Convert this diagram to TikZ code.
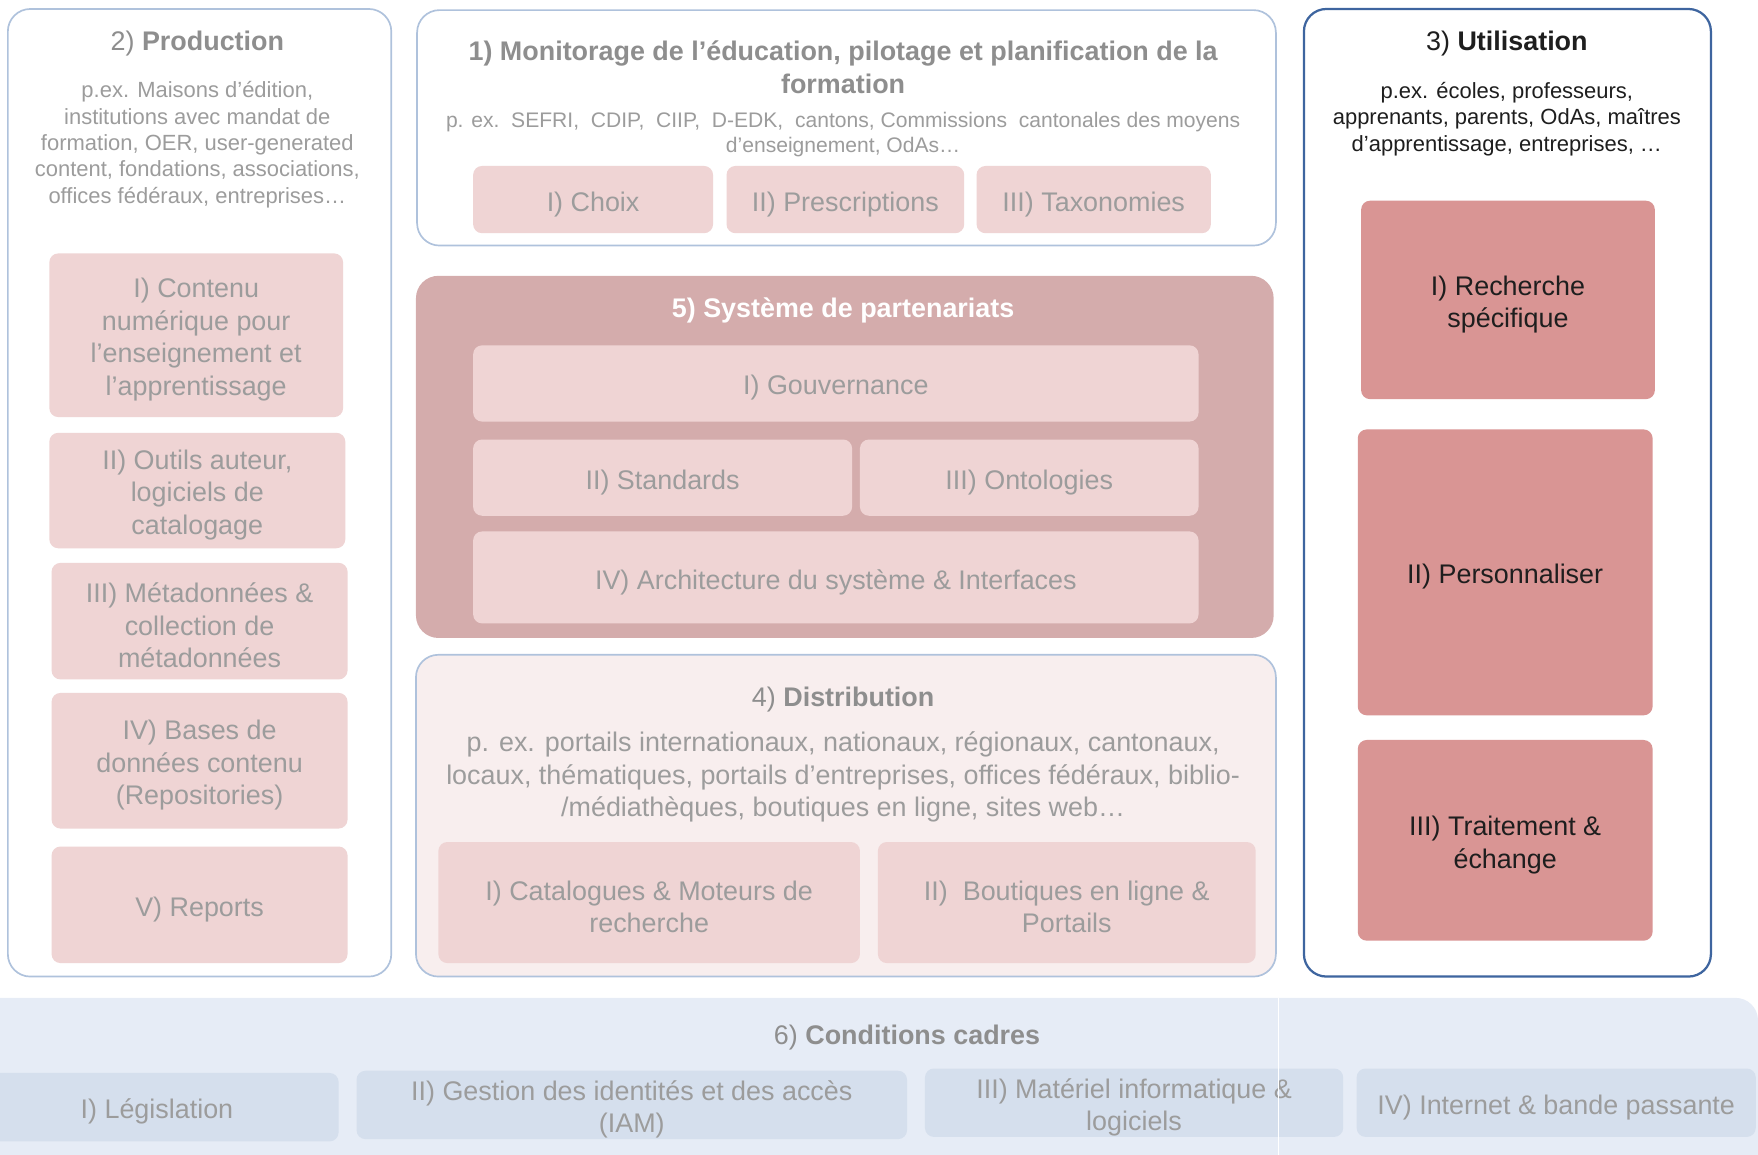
\documentclass[tikz,border=0pt]{standalone}
\usepackage{fontspec}
\setmainfont{Liberation Sans}
\usetikzlibrary{fit}
\definecolor{fadetext}{HTML}{9C9C9C}
\definecolor{titletext}{HTML}{8E8E8E}
\definecolor{darktext}{HTML}{1E1E1E}
\definecolor{framecol}{HTML}{AFC2DC}
\definecolor{userframe}{HTML}{3E659F}
\definecolor{subpink}{HTML}{EFD4D4}
\definecolor{userose}{HTML}{D99594}
\definecolor{partner}{HTML}{D4ACAC}
\definecolor{distfill}{HTML}{F8EEEE}
\definecolor{bandfill}{HTML}{E6ECF6}
\definecolor{subblue}{HTML}{D5DFED}
\begin{document}
\begin{tikzpicture}[x=0.5pt,y=-0.5pt,
    frame/.style={draw=framecol, line width=0.75pt, rounded corners=10pt, inner sep=0pt, fill=white},
    pinkbox/.style={fill=subpink, rounded corners=4pt, inner sep=0pt},
    rosebox/.style={pinkbox, fill=userose},
    bluebox/.style={pinkbox, fill=subblue},
    boxtext/.style={text=fadetext, align=center, yshift=-2pt, font=\fontsize{12}{14.5}\selectfont},
    rosetext/.style={boxtext, text=darktext},
    title/.style={text=titletext, align=center, font=\fontsize{12}{14.5}\selectfont},
    desc/.style={text=fadetext, align=center, font=\fontsize{9.8}{11.75}\selectfont}]
    \useasboundingbox (0,0) rectangle (1568,1030);
    \node[fill=bandfill, rounded corners=10pt, inner sep=0pt, fit={(-30,890) (1568,1060)}] (cadres) {};
    \node[title] (cadrestitle) at (809,925) {6) \textbf{Conditions cadres}};
    \node[bluebox, fit={(-22,957) (302,1018)}] (legis) {};
    \node[boxtext] at (legis) {I) Législation};
    \node[bluebox, fit={(318,955) (809,1016)}] (iam) {};
    \node[boxtext] at (iam) {II) Gestion des identités et des accès\\(IAM)};
    \node[bluebox, fit={(825,953) (1198,1014)}] (mat) {};
    \node[boxtext] at (mat) {III) Matériel informatique \&\\logiciels};
    \node[bluebox, fit={(1210,953) (1566,1014)}] (net) {};
    \node[boxtext] at (net) {IV) Internet \& bande passante};
    \draw[white, line width=0.5pt] (1140,890) -- (1140,1030);

    \node[frame, fit={(7,8) (349,871)}] (prod) {};
    \node[title] (prodtitle) at (176,39) {2) \textbf{Production}};
    \node[desc] (proddesc) at (176,129) {p.ex. Maisons d’édition,\\institutions avec mandat de\\formation, OER, user-generated\\content, fondations, associations,\\offices fédéraux, entreprises…};
    \node[pinkbox, fit={(44,226) (306,372)}] (contenu) {};
    \node[boxtext] at (contenu) {I) Contenu\\numérique pour\\l’enseignement et\\l’apprentissage};
    \node[pinkbox, fit={(44,386) (308,489)}] (outils) {};
    \node[boxtext] at (outils) {II) Outils auteur,\\logiciels de\\catalogage};
    \node[pinkbox, fit={(46,502) (310,606)}] (meta) {};
    \node[boxtext] at (meta) {III) Métadonnées \&\\collection de\\métadonnées};
    \node[pinkbox, fit={(46,618) (310,739)}] (bases) {};
    \node[boxtext] at (bases) {IV) Bases de\\données contenu\\(Repositories)};
    \node[pinkbox, fit={(46,755) (310,859)}] (reports) {};
    \node[boxtext] at (reports) {V) Reports};

    \node[frame, fit={(372,9) (1138,219)}] (moni) {};
    \node[title, font=\bfseries\fontsize{12}{14.5}\selectfont] (monititle) at (752,60) {1) Monitorage de l’éducation, pilotage et planification de la\\formation};
    \node[desc, font=\fontsize{9.4}{11}\selectfont] (monidesc) at (752,120) {p. ex.\ \ SEFRI,\ \ CDIP,\ \ CIIP,\ \ D-EDK,\ \ cantons, Commissions\ \ cantonales des moyens\\d’enseignement, OdAs…};
    \node[pinkbox, fit={(422,148) (636,208)}] (choix) {};
    \node[boxtext] at (choix) {I) Choix};
    \node[pinkbox, fit={(648,148) (860,208)}] (prescr) {};
    \node[boxtext] at (prescr) {II) Prescriptions};
    \node[pinkbox, fit={(871,148) (1080,208)}] (taxo) {};
    \node[boxtext] at (taxo) {III) Taxonomies};

    \node[fill=partner, rounded corners=10pt, inner sep=0pt, fit={(371,246) (1136,569)}] (partner) {};
    \node[title, text=white] (partnertitle) at (752,277) {\textbf{5) Système de partenariats}};
    \node[pinkbox, fit={(422,308) (1069,376)}] (gouv) {};
    \node[boxtext] at (gouv) {I) Gouvernance};
    \node[pinkbox, fit={(422,392) (760,460)}] (stand) {};
    \node[boxtext] at (stand) {II) Standards};
    \node[pinkbox, fit={(767,392) (1069,460)}] (onto) {};
    \node[boxtext] at (onto) {III) Ontologies};
    \node[pinkbox, fit={(422,474) (1069,556)}] (archi) {};
    \node[boxtext] at (archi) {IV) Architecture du système \& Interfaces};

    \node[frame, fill=distfill, fit={(371,584) (1138,871)}] (distr) {};
    \node[title] (distrtitle) at (752,624) {4) \textbf{Distribution}};
    \node[desc, font=\fontsize{12}{14.5}\selectfont] (distrdesc) at (752,693) {p. ex. portails internationaux, nationaux, régionaux, cantonaux,\\locaux, thématiques, portails d’entreprises, offices fédéraux, biblio-\\/médiathèques, boutiques en ligne, sites web…};
    \node[pinkbox, fit={(391,751) (767,859)}] (catal) {};
    \node[boxtext] at (catal) {I) Catalogues \& Moteurs de\\recherche};
    \node[pinkbox, fit={(783,751) (1120,859)}] (bout) {};
    \node[boxtext] at (bout) {II)\ \ Boutiques en ligne \&\\Portails};

    \node[frame, draw=userframe, line width=1pt, fit={(1163,8) (1526,871)}] (util) {};
    \node[title, text=darktext] (utiltitle) at (1344,39) {3) \textbf{Utilisation}};
    \node[desc, text=darktext] (utildesc) at (1344,106) {p.ex. écoles, professeurs,\\apprenants, parents, OdAs, maîtres\\d’apprentissage, entreprises, …};
    \node[rosebox, fit={(1214,179) (1476,356)}] (rech) {};
    \node[rosetext] at (rech) {I) Recherche\\spécifique};
    \node[rosebox, fit={(1211,383) (1474,638)}] (perso) {};
    \node[rosetext] at (perso) {II) Personnaliser};
    \node[rosebox, fit={(1211,660) (1474,839)}] (trait) {};
    \node[rosetext] at (trait) {III) Traitement \&\\échange};
\end{tikzpicture}
\end{document}
